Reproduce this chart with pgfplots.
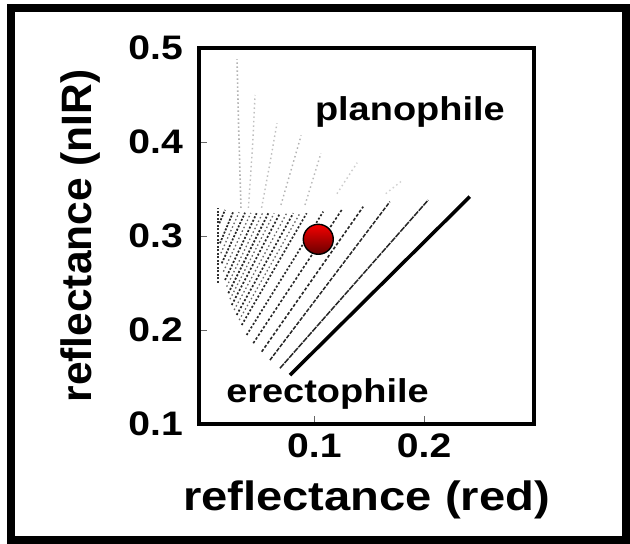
\documentclass[border=0pt]{standalone}
\usepackage{fontspec}
\setmainfont{Liberation Sans}[FakeStretch=1.15]
\newfontfamily\plainsans{Liberation Sans}
\usepackage{pgfplots}
\pgfplotsset{compat=1.18}
\definecolor{ballTop}{RGB}{245,0,0}
\definecolor{ballBot}{RGB}{105,0,0}
\pgfdeclareverticalshading{redballshade}{100bp}{color(0bp)=(ballBot); color(25bp)=(ballBot); color(75bp)=(ballTop); color(100bp)=(ballTop)}
\pgfdeclareplotmark{redball}{%
  \pgfpathcircle{\pgfpointorigin}{\pgfplotmarksize}%
  \pgfshadepath{redballshade}{0}%
  \pgfpathcircle{\pgfpointorigin}{\pgfplotmarksize}%
  \pgfusepathqstroke
}
\begin{document}
\begin{tikzpicture}
\useasboundingbox (0,0) rectangle (630pt,544pt);
\fill[white] (0,0) rectangle (630pt,544pt);
\draw[line width=8pt] (11pt,4pt) rectangle (626pt,535.5pt);
\begin{axis}[
  at={(199pt,120pt)}, anchor=south west,
  scale only axis, width=335pt, height=376pt,
  xmin=-0.005, xmax=0.3, ymin=0.1, ymax=0.5,
  axis line style={line width=4pt},
  xtick={0.1,0.2}, xticklabels={0.1,0.2},
  ytick={0.1,0.2,0.3,0.4,0.5}, yticklabels={0.1,0.2,0.3,0.4,0.5},
  xtick pos=bottom, ytick pos=left,
  tick align=inside, major tick length=8pt,
  tick style={line width=0.8pt, black!60},
  xticklabel style={font=\fontsize{34}{36}\selectfont\bfseries, anchor=north, inner sep=0pt, yshift=-10pt},
  yticklabel style={font=\fontsize{34}{36}\selectfont\bfseries, anchor=east, inner sep=0pt, xshift=-16pt},
  xlabel={reflectance (red)},
  ylabel={reflectance (nIR)},
  xlabel style={at={(axis description cs:0.5,-0.2021)}, anchor=center, font=\fontsize{41}{45}\selectfont\bfseries},
  ylabel style={at={(axis description cs:-0.355,0.5)}, anchor=center, rotate=0, font=\plainsans\fontsize{42.5}{46}\selectfont\bfseries},
]
% faint upper (planophile) dotted lines
\addplot[gray!60, line width=1.6pt, dash pattern=on 1.5pt off 2.5pt] coordinates {(0.0332,0.330) (0.0310,0.420) (0.0296,0.488)};
\addplot[gray!50, line width=1.4pt, dash pattern=on 1.5pt off 3pt] coordinates {(0.040,0.330) (0.044,0.400) (0.046,0.450)};
\addplot[gray!50, line width=1.4pt, dash pattern=on 1.5pt off 3pt] coordinates {(0.052,0.330) (0.060,0.380) (0.066,0.420)};
\addplot[gray!60, line width=1.4pt, dash pattern=on 1.5pt off 3pt] coordinates {(0.0696,0.333) (0.088,0.407)};
\addplot[gray!55, line width=1.4pt, dash pattern=on 1.5pt off 3pt] coordinates {(0.0915,0.333) (0.106,0.388)};
\addplot[gray!40, line width=1.4pt, dash pattern=on 1.5pt off 3pt] coordinates {(0.1206,0.345) (0.139,0.378)};
\addplot[gray!35, line width=1.4pt, dash pattern=on 1.5pt off 3pt] coordinates {(0.165,0.345) (0.180,0.359)};
% fan of lines (leaf angle families)
\addplot[black, line width=3.5pt] coordinates {(0.0778,0.152) (0.2416,0.3419)};
\addplot[black!85, line width=1.5pt, dash pattern=on 6pt off 1pt] coordinates {(0.0687,0.1593) (0.2037,0.3383)};
\addplot[black!85, line width=1.5pt, dash pattern=on 4pt off 1.5pt] coordinates {(0.0596,0.168) (0.1688,0.3365)};
\addplot[black!85, line width=1.6pt, dash pattern=on 3pt off 2pt] coordinates {(0.0521,0.1769) (0.1445,0.3312)};
\addplot[black!85, line width=1.6pt, dash pattern=on 2.5pt off 2pt] coordinates {(0.0444,0.1859) (0.1249,0.3277)};
\addplot[black!85, line width=1.7pt, dash pattern=on 2pt off 2pt] coordinates {(0.0384,0.1947) (0.1081,0.3259)};
\addplot[black!85, line width=1.7pt, dash pattern=on 2pt off 2pt] coordinates {(0.0339,0.2053) (0.0930,0.3242)};
\addplot[black!85, line width=1.7pt, dash pattern=on 2pt off 2pt] coordinates {(0.0293,0.2160) (0.0808,0.3242)};
\addplot[black!85, line width=1.7pt, dash pattern=on 2pt off 2pt] coordinates {(0.0248,0.2266) (0.0687,0.3242)};
\addplot[black!85, line width=1.7pt, dash pattern=on 2pt off 1.8pt] coordinates {(0.0217,0.2391) (0.0581,0.3242)};
\addplot[black!85, line width=1.7pt, dash pattern=on 2pt off 1.8pt] coordinates {(0.0187,0.2532) (0.0475,0.3242)};
\addplot[black!85, line width=1.7pt, dash pattern=on 2pt off 1.6pt] coordinates {(0.0157,0.2710) (0.0369,0.3248)};
\addplot[black!85, line width=1.7pt, dash pattern=on 2pt off 1.5pt] coordinates {(0.0141,0.2923) (0.0262,0.3259)};
\addplot[black!85, line width=1.7pt, dash pattern=on 2pt off 1.5pt] coordinates {(0.0135,0.3135) (0.0187,0.3277)};
\addplot[black!80, line width=1.7pt, dash pattern=on 2pt off 1.5pt] coordinates {(0.0125,0.250) (0.0125,0.3300)};
% interleaved lighter lines in the dense region
\addplot[black!60, line width=1.3pt, dash pattern=on 1.5pt off 2.5pt] coordinates {(0.0316,0.2106) (0.0869,0.3242)};
\addplot[black!60, line width=1.3pt, dash pattern=on 1.5pt off 2.5pt] coordinates {(0.0270,0.2213) (0.0748,0.3242)};
\addplot[black!60, line width=1.3pt, dash pattern=on 1.5pt off 2.5pt] coordinates {(0.0232,0.2328) (0.0634,0.3242)};
\addplot[black!60, line width=1.3pt, dash pattern=on 1.5pt off 2.5pt] coordinates {(0.0202,0.2461) (0.0528,0.3242)};
\addplot[black!60, line width=1.3pt, dash pattern=on 1.5pt off 2.5pt] coordinates {(0.0172,0.2621) (0.0422,0.3245)};
\addplot[black!60, line width=1.3pt, dash pattern=on 1.5pt off 2.5pt] coordinates {(0.0149,0.2816) (0.0315,0.3253)};
% observed point
\addplot[only marks, mark=redball, mark size=15pt, mark options={draw=black, line width=1.4pt}] coordinates {(0.1036,0.2965)};
\node[font=\fontsize{33}{36}\selectfont\bfseries, anchor=center] at (axis cs:0.187,0.432) {planophile};
\node[font=\fontsize{33}{36}\selectfont\bfseries, anchor=center] at (axis cs:0.112,0.132) {erectophile};
\end{axis}
\end{tikzpicture}
\end{document}
